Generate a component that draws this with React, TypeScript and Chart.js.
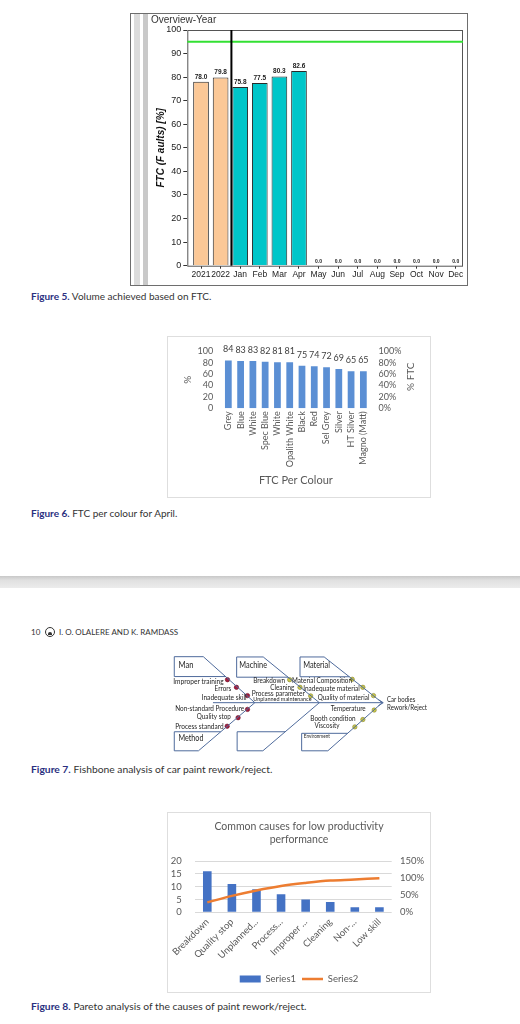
import React, { useEffect, useRef } from "react";
import { Chart, registerables } from "chart.js";
Chart.register(...registerables);

// ---------- Figure 5 data ----------
const fig5Categories = ["2021", "2022", "Jan", "Feb", "Mar", "Apr", "May", "Jun", "Jul", "Aug", "Sep", "Oct", "Nov", "Dec"];
const fig5Values = [78.0, 79.8, 75.8, 77.5, 80.3, 82.6, 0, 0, 0, 0, 0, 0, 0, 0];
const fig5Target = 95;
const fig5YearCount = 2;
const fig5YTicks = [0, 10, 20, 30, 40, 50, 60, 70, 80, 90, 100];

// ---------- Figure 6 data ----------
const fig6Colours = ["Grey", "Blue", "White", "Spec Blue", "White", "Opalith White", "Black", "Red", "Sel Grey", "Silver", "HT Silver", "Magno (Matt)"];
const fig6Values = [84, 83, 83, 82, 81, 81, 75, 74, 72, 69, 65, 65];

// ---------- Figure 7 data ----------
const fishCategories = ["Man", "Machine", "Material", "Method", "Environment"];
const manCauses = ["Improper training", "Errors", "Inadequate skill"];
const machineCauses = ["Breakdown", "Cleaning", "Process parameter", "Unplanned maintenance"];
const materialCauses = ["Material Composition", "Inadequate material", "Quality of material"];
const methodCauses = ["Non-standard Procedure", "Quality stop", "Process standard"];
const environmentCauses = ["Temperature", "Booth condition", "Viscosity"];
const fishEffect = ["Car bodies", "Rework/Reject"];

// ---------- Figure 8 data ----------
const fig8Causes = ["Breakdown", "Quality stop", "Unplanned...", "Process...", "Improper ...", "Cleaning", "Non-...", "Low skill"];
const fig8Counts = [16, 11, 9, 7, 5, 4, 2, 2];
const fig8Cumulative = [0.29, 0.48, 0.64, 0.77, 0.86, 0.93, 0.96, 1.0];

const XL = "Lato";
const ARIAL = "'Liberation Sans'";
const NO_GRID = { display: false, drawTicks: false };

// ---------- Figure 5 ----------
const fig5Overlay = {
  id: "fig5Overlay",
  afterDatasetsDraw(chart: any) {
    const { ctx, chartArea: a, scales } = chart;
    const x = scales.x, y = scales.y;
    ctx.save();
    ctx.strokeStyle = "#555";
    ctx.lineWidth = 1;
    ctx.strokeRect(a.left + 0.5, a.top + 0.5, a.right - a.left - 1, a.bottom - a.top);
    const ty = y.getPixelForValue(fig5Target);
    ctx.strokeStyle = "#33e033";
    ctx.lineWidth = 2;
    ctx.beginPath(); ctx.moveTo(a.left, ty); ctx.lineTo(a.right, ty); ctx.stroke();
    const sx = (x.getPixelForValue(fig5YearCount - 1) + x.getPixelForValue(fig5YearCount)) / 2 + 1;
    ctx.strokeStyle = "#000";
    ctx.beginPath(); ctx.moveTo(sx, a.top); ctx.lineTo(sx, a.bottom); ctx.stroke();
    const meta = chart.getDatasetMeta(0);
    ctx.fillStyle = "#1a1a1a";
    ctx.textAlign = "center";
    ctx.textBaseline = "middle";
    meta.data.forEach((bar: any, i: number) => {
      const v = fig5Values[i];
      if (v > 0) {
        ctx.font = `bold 6.5px ${ARIAL}`;
        ctx.fillText(v.toFixed(1), bar.x, bar.y - 5);
      } else {
        ctx.font = `bold 5px ${ARIAL}`;
        ctx.fillText(v.toFixed(1), bar.x, bar.y - 4);
      }
    });
    ctx.restore();
  },
};

const fig5Config = (): any => ({
  type: "bar",
  data: {
    labels: fig5Categories,
    datasets: [
      {
        data: fig5Values,
        backgroundColor: fig5Categories.map((_, i) => (i < fig5YearCount ? "#fbc897" : "#00c6c9")),
        borderColor: "#2a2a2a",
        borderWidth: fig5Values.map((v) => (v > 0 ? 1 : 0)),
        categoryPercentage: 1,
        barPercentage: 0.8,
      },
    ],
  },
  options: {
    responsive: false,
    animation: false,
    devicePixelRatio: 1,
    layout: { padding: { left: 20, right: 3, top: 0, bottom: 0 } },
    plugins: {
      legend: { display: false },
      tooltip: { enabled: false },
      title: {
        display: true,
        text: "Overview-Year",
        align: "start",
        color: "#333",
        font: { family: ARIAL, size: 10, weight: "normal" },
        padding: { top: 0, bottom: 4 },
      },
    },
    scales: {
      x: {
        grid: { drawOnChartArea: false, offset: false, tickLength: 3, color: "#333" },
        border: { display: false },
        ticks: { color: "#222", font: { family: ARIAL, size: 8.5 }, padding: 1, maxRotation: 0, autoSkip: false },
        afterBuildTicks: (s: any) => {
          // the plot leaves a little more room before the first category than after the last
          s._startValue = -0.7;
          s._valueRange = 14.07;
        },
        afterFit: (s: any) => { s.height = 18.3; },
      },
      y: {
        min: 0,
        max: 100,
        afterBuildTicks: (s: any) => { s.ticks = fig5YTicks.map((v) => ({ value: v })); },
        ticks: { color: "#222", font: { family: ARIAL, size: 9 }, padding: 2, autoSkip: false },
        grid: { drawOnChartArea: false, tickLength: 4, color: "#333" },
        border: { display: false },
        title: {
          display: true,
          text: "FTC (F aults) [%]",
          color: "#111",
          font: { family: ARIAL, size: 10, style: "italic", weight: "bold" },
          padding: { top: 4, bottom: 0 },
        },
        afterFit: (s: any) => { s.width = 36.3; },
      },
    },
  },
  plugins: [fig5Overlay],
});

// ---------- Figure 6 ----------
const fig6Overlay = {
  id: "fig6Overlay",
  afterDatasetsDraw(chart: any) {
    const { ctx } = chart;
    ctx.save();
    ctx.fillStyle = "#404040";
    ctx.font = `9px ${XL}`;
    ctx.textAlign = "center";
    ctx.textBaseline = "middle";
    chart.getDatasetMeta(0).data.forEach((bar: any, i: number) => {
      ctx.fillText(String(fig6Values[i]), bar.x, bar.y - 11);
    });
    ctx.translate(242.7, 39.7);
    ctx.rotate(-Math.PI / 2);
    ctx.fillStyle = "#595959";
    ctx.font = `10px ${XL}`;
    ctx.fillText("% FTC", 0, 0);
    ctx.restore();
  },
};

const fig6Config = (): any => ({
  type: "bar",
  data: {
    labels: fig6Colours,
    datasets: [{ data: fig6Values, backgroundColor: "#5b8fd4", categoryPercentage: 1, barPercentage: 0.55 }],
  },
  options: {
    responsive: false,
    animation: false,
    devicePixelRatio: 1,
    layout: { padding: { left: 10, right: 10, top: 12, bottom: 9.7 } },
    plugins: { legend: { display: false }, tooltip: { enabled: false } },
    scales: {
      x: {
        grid: NO_GRID,
        border: { display: false },
        ticks: { color: "#595959", font: { family: XL, size: 9 }, minRotation: 90, maxRotation: 90, padding: 3, autoSkip: false },
        title: { display: true, text: "FTC Per Colour", color: "#595959", font: { family: XL, size: 11 }, padding: 0 },
        afterFit: (s: any) => { s.height = 79; },
      },
      y: {
        position: "left",
        min: 0,
        max: 100,
        ticks: { stepSize: 20, color: "#595959", font: { family: XL, size: 9 }, padding: 9, autoSkip: false },
        grid: NO_GRID,
        border: { display: false },
        title: { display: true, text: "%", color: "#595959", font: { family: XL, size: 10 }, padding: { top: 3.7, bottom: 0 } },
        afterFit: (s: any) => { s.width = 44.2; },
      },
      y2: {
        position: "right",
        min: 0,
        max: 1,
        ticks: { stepSize: 0.2, color: "#595959", font: { family: XL, size: 9 }, padding: 9, autoSkip: false, callback: (v: any) => Math.round(v * 100) + "%" },
        grid: NO_GRID,
        border: { display: false },
        afterFit: (s: any) => { s.width = 50.5; },
      },
    },
  },
  plugins: [fig6Overlay],
});

// ---------- Figure 7 (fishbone) layout ----------
const boneColor = "#4f6b9c";
const fishPolylines: number[][][] = [
  [[223, 674.3], [170, 674.3], [170, 652.7], [200, 652.7], [253.3, 702.7]],
  [[287.7, 675], [234.5, 675], [234.5, 653], [262, 653], [320, 702.7]],
  [[351.1, 674.5], [300, 674.5], [300, 653], [325, 653], [385, 702.7]],
  [[253.3, 702.7], [195, 755], [170, 755], [170, 734.3], [218, 734.3]],
  [[320, 702.7], [261.6, 755], [235, 755], [235, 734.3], [284.7, 734.3]],
  [[385, 702.7], [328.8, 755], [301.7, 755], [301.7, 736], [349.2, 736]],
  [[210, 702.7], [386, 702.7]],
  [[381, 699.3], [386, 702.7], [381, 706.1]],
];
const redDots = [[225, 677.7], [234.3, 686], [245.7, 695], [245.7, 710], [236, 719], [224.7, 728.3]];
const yellowDots = [[289.3, 677.7], [300, 686], [311, 695.3], [354, 677.3], [365, 686], [376, 695], [376.7, 710.7], [365, 721], [356.7, 729]];
// [x, y, maxWidth, fontSize]
const manPos = [[169, 679.3, 50.3, 7.5], [211.7, 687.7, 16.7, 7.5], [198.3, 696.7, 45, 7.5]];
const machinePos = [[251.7, 678.7, 31.7, 7.5], [269.3, 686.7, 24, 7.5], [250, 692.7, 53.3, 7.5], [251.7, 699, 58.3, 6.5]];
const materialPos = [[291.7, 678.7, 60, 7.5], [303.3, 687.7, 56.7, 7.5], [318.3, 696.7, 51.7, 7.5]];
const methodPos = [[171, 708.7, 69, 7.5], [193.3, 718, 34, 7.5], [171, 728.3, 48.3, 7.5]];
const environmentPos = [[331.7, 708.7, 35, 7.5], [310.7, 720, 45.3, 7.5], [315, 728, 25, 7.5]];
const effectPos = [[390, 699.3, 28.3, 7.5], [390, 707.7, 40, 7.5]];
const categoryPos = [[174.3, 661.7, 15, 8.5], [237.3, 662.3, 27.7, 8.5], [303.3, 662.3, 26.7, 8.5], [174.3, 741.7, 25, 8.5], [304, 739.3, 26, 6]];

const fishText = {
  id: "fishText",
  afterDatasetsDraw(chart: any) {
    const { ctx, scales } = chart;
    const groups: [string[], number[][]][] = [
      [manCauses, manPos],
      [machineCauses, machinePos],
      [materialCauses, materialPos],
      [methodCauses, methodPos],
      [environmentCauses, environmentPos],
      [fishEffect, effectPos],
      [fishCategories, categoryPos],
    ];
    ctx.save();
    ctx.fillStyle = "#1e1e1e";
    ctx.textAlign = "left";
    ctx.textBaseline = "middle";
    for (const [names, pos] of groups) {
      names.forEach((t, i) => {
        const [x, y, w, fs] = pos[i];
        ctx.font = `${fs}px ${XL}`;
        ctx.fillText(t, scales.x.getPixelForValue(x), scales.y.getPixelForValue(y), w);
      });
    }
    ctx.restore();
  },
};

const fishConfig = (): any => ({
  type: "scatter",
  data: {
    datasets: [
      ...fishPolylines.map((pl) => ({
        data: pl.map(([x, y]) => ({ x, y })),
        showLine: true,
        borderColor: boneColor,
        borderWidth: 1,
        pointRadius: 0,
        tension: 0,
      })),
      { data: redDots.map(([x, y]) => ({ x, y })), pointRadius: 2.2, pointBackgroundColor: "#a21c3e", pointBorderColor: "#6e1026", pointBorderWidth: 0.6 },
      { data: yellowDots.map(([x, y]) => ({ x, y })), pointRadius: 2.2, pointBackgroundColor: "#c9c64a", pointBorderColor: "#8a8830", pointBorderWidth: 0.6 },
    ],
  },
  options: {
    responsive: false,
    animation: false,
    devicePixelRatio: 1,
    layout: { padding: 0 },
    plugins: { legend: { display: false }, tooltip: { enabled: false } },
    scales: {
      x: { type: "linear", min: 160, max: 440, display: false },
      y: { type: "linear", min: 645, max: 760, reverse: true, display: false },
    },
  },
  plugins: [fishText],
});

// ---------- Figure 8 ----------
const fig8Config = (): any => ({
  type: "bar",
  data: {
    labels: fig8Causes,
    datasets: [
      { type: "bar", label: "Series1", data: fig8Counts, backgroundColor: "#4472c4", categoryPercentage: 1, barPercentage: 0.35, yAxisID: "y", order: 2 },
      { type: "line", label: "Series2", data: fig8Cumulative, borderColor: "#ed7d31", borderWidth: 2.5, pointRadius: 0, tension: 0.35, yAxisID: "y2", order: 1 },
    ],
  },
  options: {
    responsive: false,
    animation: false,
    devicePixelRatio: 1,
    layout: { padding: { left: 0, right: 8, top: 0, bottom: -1.75 } },
    plugins: {
      tooltip: { enabled: false },
      title: {
        display: true,
        text: ["Common causes for low productivity", "performance"],
        color: "#595959",
        font: { family: XL, size: 10.5, weight: "normal", lineHeight: 1.27 },
        padding: { top: 6.65, bottom: 14.75 },
      },
      legend: {
        display: true,
        position: "bottom",
        labels: {
          color: "#595959",
          font: { family: XL, size: 9.5 },
          usePointStyle: true,
          pointStyleWidth: 21,
          boxHeight: 7,
          padding: 6,
          generateLabels: () => [
            { text: "Series1", fillStyle: "#4472c4", strokeStyle: "#4472c4", lineWidth: 0, pointStyle: "rect", hidden: false, datasetIndex: 0, fontColor: "#595959" },
            { text: "Series2", fillStyle: "#ed7d31", strokeStyle: "#ed7d31", lineWidth: 2.5, pointStyle: "line", hidden: false, datasetIndex: 1, fontColor: "#595959" },
          ],
        },
      },
    },
    scales: {
      x: {
        grid: NO_GRID,
        border: { display: false },
        ticks: { color: "#595959", font: { family: XL, size: 9.5 }, minRotation: 45, maxRotation: 45, padding: 4, autoSkip: false },
        afterFit: (s: any) => { s.height = 55.95; },
      },
      y: {
        position: "left",
        min: 0,
        max: 20,
        ticks: { stepSize: 5, color: "#595959", font: { family: XL, size: 9.5 }, padding: 13.3, autoSkip: false },
        grid: { color: "#d9d9d9", drawTicks: false },
        border: { display: false },
        afterFit: (s: any) => { s.width = 27; },
      },
      y2: {
        position: "right",
        min: 0,
        max: 1.5,
        ticks: { stepSize: 0.5, color: "#595959", font: { family: XL, size: 9.5 }, padding: 8.3, autoSkip: false, callback: (v: any) => Math.round(v * 100) + "%" },
        grid: NO_GRID,
        border: { display: false },
        afterFit: (s: any) => { s.width = 38.3; },
      },
    },
  },
});

// ---------- components ----------
function ChartBox({ make, left, top, width, height }: { make: () => any; left: number; top: number; width: number; height: number }) {
  const ref = useRef<HTMLCanvasElement>(null);
  useEffect(() => {
    const c = new Chart(ref.current as HTMLCanvasElement, make());
    return () => c.destroy();
  }, []);
  return <canvas ref={ref} width={width} height={height} style={{ position: "absolute", left, top, width, height }} />;
}

function Caption({ top, num, text, size }: { top: number; num: string; text: string; size: number }) {
  return (
    <div style={{ position: "absolute", left: 31, top, fontFamily: XL, fontSize: size, lineHeight: "11px", whiteSpace: "nowrap", color: "#333" }}>
      <span style={{ color: "#2b3080", fontWeight: 700 }}>{num}</span> {text}
    </div>
  );
}

const abs = (left: number, top: number, width: number, height: number, extra: any = {}) => ({
  position: "absolute" as const, left, top, width, height, boxSizing: "border-box" as const, ...extra,
});

export default function App() {
  return (
    <div style={abs(0, 0, 520, 1024, { background: "#fff", overflow: "hidden" })}>
      {/* Figure 5 */}
      <div style={abs(130, 13, 338, 273, { border: "1px solid #6e6e6e" })} />
      <div style={abs(134, 14, 6, 271, { background: "#dcdcdc" })} />
      <div style={abs(143, 14, 5, 271, { background: "#c9c9c9" })} />
      <ChartBox make={fig5Config} left={131} top={14} width={335} height={270} />
      <Caption top={291} num="Figure 5." text="Volume achieved based on FTC." size={10} />

      {/* Figure 6 */}
      <div style={abs(167, 336, 264, 162, { border: "1px solid #dedede" })} />
      <ChartBox make={fig6Config} left={168} top={337} width={262} height={160} />
      <Caption top={508} num="Figure 6." text="FTC per colour for April." size={10} />

      {/* page break */}
      <div style={abs(0, 576, 520, 12, { background: "linear-gradient(to bottom, #c8c8c8, #e0e0e0 35%, #ececec)" })} />

      {/* running header */}
      <div style={{ position: "absolute", left: 31, top: 627, fontFamily: XL, fontSize: 8, lineHeight: "10px", color: "#333", whiteSpace: "nowrap" }}>10</div>
      <div style={abs(45, 627, 10, 10, { border: "1px solid #333", borderRadius: "50%" })}>
        <div style={abs(2, 4, 4, 3, { background: "#333", borderRadius: "2px 2px 0 0" })} />
      </div>
      <div style={{ position: "absolute", left: 59, top: 627, fontFamily: XL, fontSize: 8, lineHeight: "10px", color: "#333", whiteSpace: "nowrap" }}>
        I. O. OLALERE AND K. RAMDASS
      </div>

      {/* Figure 7 */}
      <ChartBox make={fishConfig} left={160} top={645} width={280} height={115} />
      <Caption top={763.5} num="Figure 7." text="Fishbone analysis of car paint rework/reject." size={10.3} />

      {/* Figure 8 */}
      <div style={abs(167, 812, 264, 181, { border: "1px solid #dedede" })} />
      <ChartBox make={fig8Config} left={168} top={813} width={270} height={179} />
      <Caption top={1000.5} num="Figure 8." text="Pareto analysis of the causes of paint rework/reject." size={10.3} />
    </div>
  );
}
